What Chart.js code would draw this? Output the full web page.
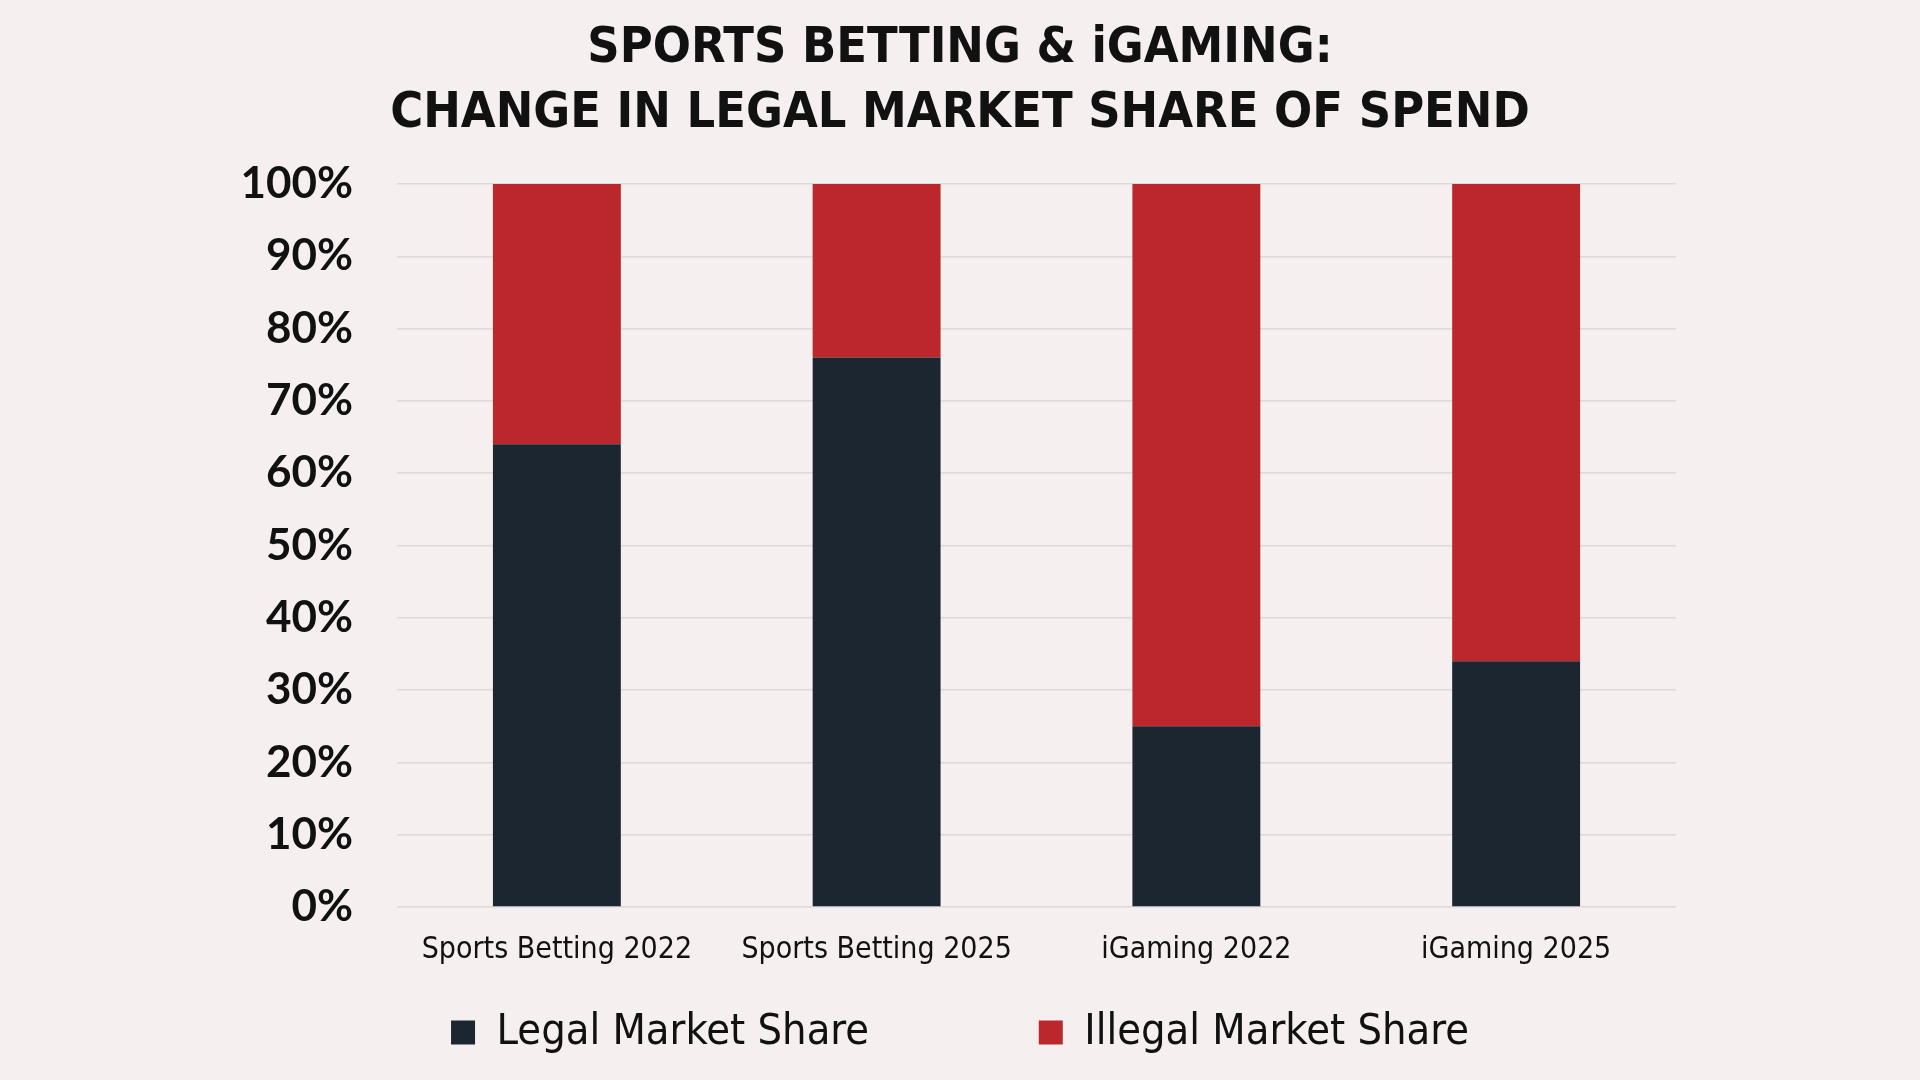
<!DOCTYPE html>
<html>
<head>
<meta charset="utf-8">
<script src="https://cdn.jsdelivr.net/npm/chart.js@4"></script>
<style>
  html, body { margin: 0; padding: 0; background: #f5efef; }
  #wrap { width: 1920px; height: 1080px; }
</style>
</head>
<body>
<div id="wrap"><canvas id="chart" width="1920" height="1080"></canvas></div>
<script>
var categories = ["Sports Betting 2022", "Sports Betting 2025", "iGaming 2022", "iGaming 2025"];
var legalShare = [64, 76, 25, 34];
var illegalShare = [36, 24, 75, 66];
var seriesNames = ["Legal Market Share", "Illegal Market Share"];
var titleLines = ["SPORTS BETTING & iGAMING:", "CHANGE IN LEGAL MARKET SHARE OF SPEND"];

var narrow = "'Liberation Sans Narrow', 'DejaVu Sans Condensed', sans-serif";

var chart = null;

function buildChart(canvasID) {
    var ctx = document.getElementById(canvasID);
    chart = new Chart(ctx, {
        type: "bar",
        data: {
            labels: categories,
            datasets: [{
                label: seriesNames[0],
                data: legalShare,
                backgroundColor: "#1b2631"
            }, {
                label: seriesNames[1],
                data: illegalShare,
                backgroundColor: "#bb272b"
            }]
        },
        options: {
            responsive: false,
            animation: false,
            devicePixelRatio: 1,
            categoryPercentage: 0.8,
            barPercentage: 0.5,
            layout: {
                padding: { left: 0, right: 0, top: 0, bottom: 16 }
            },
            scales: {
                x: {
                    stacked: true,
                    grid: { display: false },
                    border: { display: false },
                    ticks: {
                        color: "#111",
                        padding: 17,
                        font: { family: narrow, size: 30 }
                    },
                    afterFit: function (s) { s.height = 94; }
                },
                y: {
                    stacked: true,
                    min: 0,
                    max: 100,
                    grid: { color: "#dcd9d9", lineWidth: 1.5, drawTicks: false },
                    border: { display: false },
                    ticks: {
                        stepSize: 10,
                        color: "#111",
                        padding: 44,
                        font: { family: "Lato", size: 44, weight: "bold" },
                        callback: function (v) { return v + "%"; }
                    },
                    afterFit: function (s) { s.width = 397; }
                },
                // empty axis on the right, only to leave the blank margin
                yRight: {
                    position: "right",
                    grid: { display: false },
                    border: { display: false },
                    ticks: { display: false },
                    afterFit: function (s) { s.width = 244; }
                }
            },
            plugins: {
                title: {
                    display: true,
                    text: titleLines,
                    color: "#111",
                    font: { family: narrow, size: 50, weight: "bold", lineHeight: 1.3 },
                    padding: { top: 17, bottom: 37 }
                },
                legend: {
                    position: "bottom",
                    labels: {
                        color: "#111",
                        boxWidth: 24,
                        boxHeight: 24,
                        padding: 10,
                        font: { family: narrow, size: 43 },
                        generateLabels: function (c) {
                            var items = Chart.defaults.plugins.legend.labels.generateLabels(c);
                            // widen the first item so the second sits further right
                            items[0].text = items[0].text + " ".repeat(13);
                            return items;
                        }
                    }
                },
                tooltip: { enabled: false }
            }
        }
    });
}

buildChart("chart");
</script>
</body>
</html>
